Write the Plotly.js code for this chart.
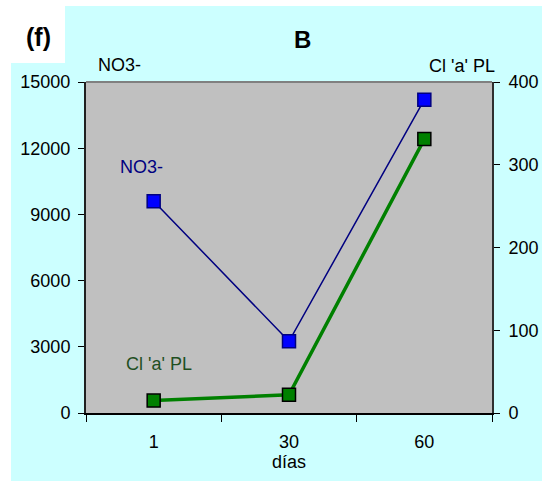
<!DOCTYPE html>
<html>
<head>
<meta charset="utf-8">
<script src="https://cdn.plot.ly/plotly-3.0.1.min.js"></script>
<style>html,body{margin:0;padding:0;background:#fff;}#chart{width:542px;height:481px;}</style>
</head>
<body>
<div id="chart"></div>
<script>
const days = ['1', '30', '60'];
const no3 = [9600, 3250, 14200];
const clA = [15, 22, 331];
const leftTicks = [0, 3000, 6000, 9000, 12000, 15000];
const rightTicks = [0, 100, 200, 300, 400];

const W = 542, H = 481;
const L = 86, R = 492, T = 82, B = 413;
const px = v => (v - L) / (R - L);
const py = v => (B - v) / (B - T);
const font = 'Liberation Sans, Arial, sans-serif';
const fs = 18;

const traces = [
  {
    x: days, y: no3, type: 'scatter', mode: 'lines+markers', name: 'NO3-',
    line: {color: '#000080', width: 1.5},
    marker: {symbol: 'square', size: 13, color: '#0000FF', line: {color: '#000080', width: 1.5}},
    yaxis: 'y', cliponaxis: false
  },
  {
    x: days, y: clA, type: 'scatter', mode: 'lines+markers', name: "Cl 'a' PL",
    line: {color: '#008000', width: 3.5},
    marker: {symbol: 'square', size: 13, color: '#008000', line: {color: '#000000', width: 1.5}},
    yaxis: 'y2', cliponaxis: false
  }
];

const white = '#FFFFFF';
function ann(text, x, y, size, color) {
  return {text: text, xref: 'paper', yref: 'paper', x: px(x), y: py(y),
          xanchor: 'center', yanchor: 'middle', showarrow: false,
          font: {family: font, size: size, color: color}};
}
const layout = {
  width: W, height: H,
  margin: {l: L, r: W - R, t: T, b: H - B, pad: 0},
  paper_bgcolor: '#CCFFFF',
  plot_bgcolor: '#C0C0C0',
  showlegend: false,
  font: {family: font, size: fs, color: '#000'},
  xaxis: {
    type: 'category', categoryorder: 'array', categoryarray: days,
    range: [-0.5, 2.5], tickson: 'boundaries',
    ticks: 'outside', ticklen: 7, tickwidth: 1, tickcolor: '#000',
    showline: true, linecolor: '#000', linewidth: 1.5,
    showgrid: false, zeroline: false,
    tickfont: {family: font, size: fs, color: '#000'},
    ticklabelstandoff: 12,
    title: {text: 'días', font: {family: font, size: fs, color: '#000'}, standoff: 0}
  },
  yaxis: {
    range: [0, 15000], tickvals: leftTicks, ticktext: leftTicks.map(String),
    ticks: 'outside', ticklen: 6, tickcolor: '#000',
    showline: true, linecolor: '#202020', linewidth: 2,
    showgrid: false, zeroline: false,
    tickfont: {family: font, size: fs, color: '#000'},
    ticklabelstandoff: 4
  },
  yaxis2: {
    overlaying: 'y', side: 'right',
    range: [0, 400], tickvals: rightTicks, ticktext: rightTicks.map(String),
    ticks: 'outside', ticklen: 6, tickcolor: '#000',
    showline: true, linecolor: '#303030', linewidth: 2,
    showgrid: false, zeroline: false,
    tickfont: {family: font, size: fs, color: '#000'},
    ticklabelstandoff: 5
  },
  shapes: [
    {type: 'line', xref: 'paper', yref: 'paper', x0: 0, x1: 1, y0: 1, y1: 1, line: {color: '#808080', width: 2}},
    {type: 'rect', xref: 'paper', yref: 'paper', x0: px(-5), x1: px(11), y0: py(H + 5), y1: py(-5), fillcolor: white, line: {width: 0}, layer: 'above'},
    {type: 'rect', xref: 'paper', yref: 'paper', x0: px(-5), x1: px(65), y0: py(63), y1: py(-5), fillcolor: white, line: {width: 0}, layer: 'above'},
    {type: 'rect', xref: 'paper', yref: 'paper', x0: px(-5), x1: px(W + 5), y0: py(6), y1: py(-5), fillcolor: white, line: {width: 0}, layer: 'above'}
  ],
  annotations: [
    ann('<b>(f)</b>', 38, 37, 25, '#000'),
    ann('<b>B</b>', 302, 39, 24, '#000'),
    ann('NO3-', 119, 65, fs, '#000'),
    ann("Cl 'a' PL", 462, 66, fs, '#000'),
    ann('NO3-', 141, 167, fs, '#000080'),
    ann("Cl 'a' PL", 159, 364, fs, '#1f4f1f')
  ]
};

Plotly.newPlot('chart', traces, layout, {displayModeBar: false, staticPlot: true});
</script>
</body>
</html>
